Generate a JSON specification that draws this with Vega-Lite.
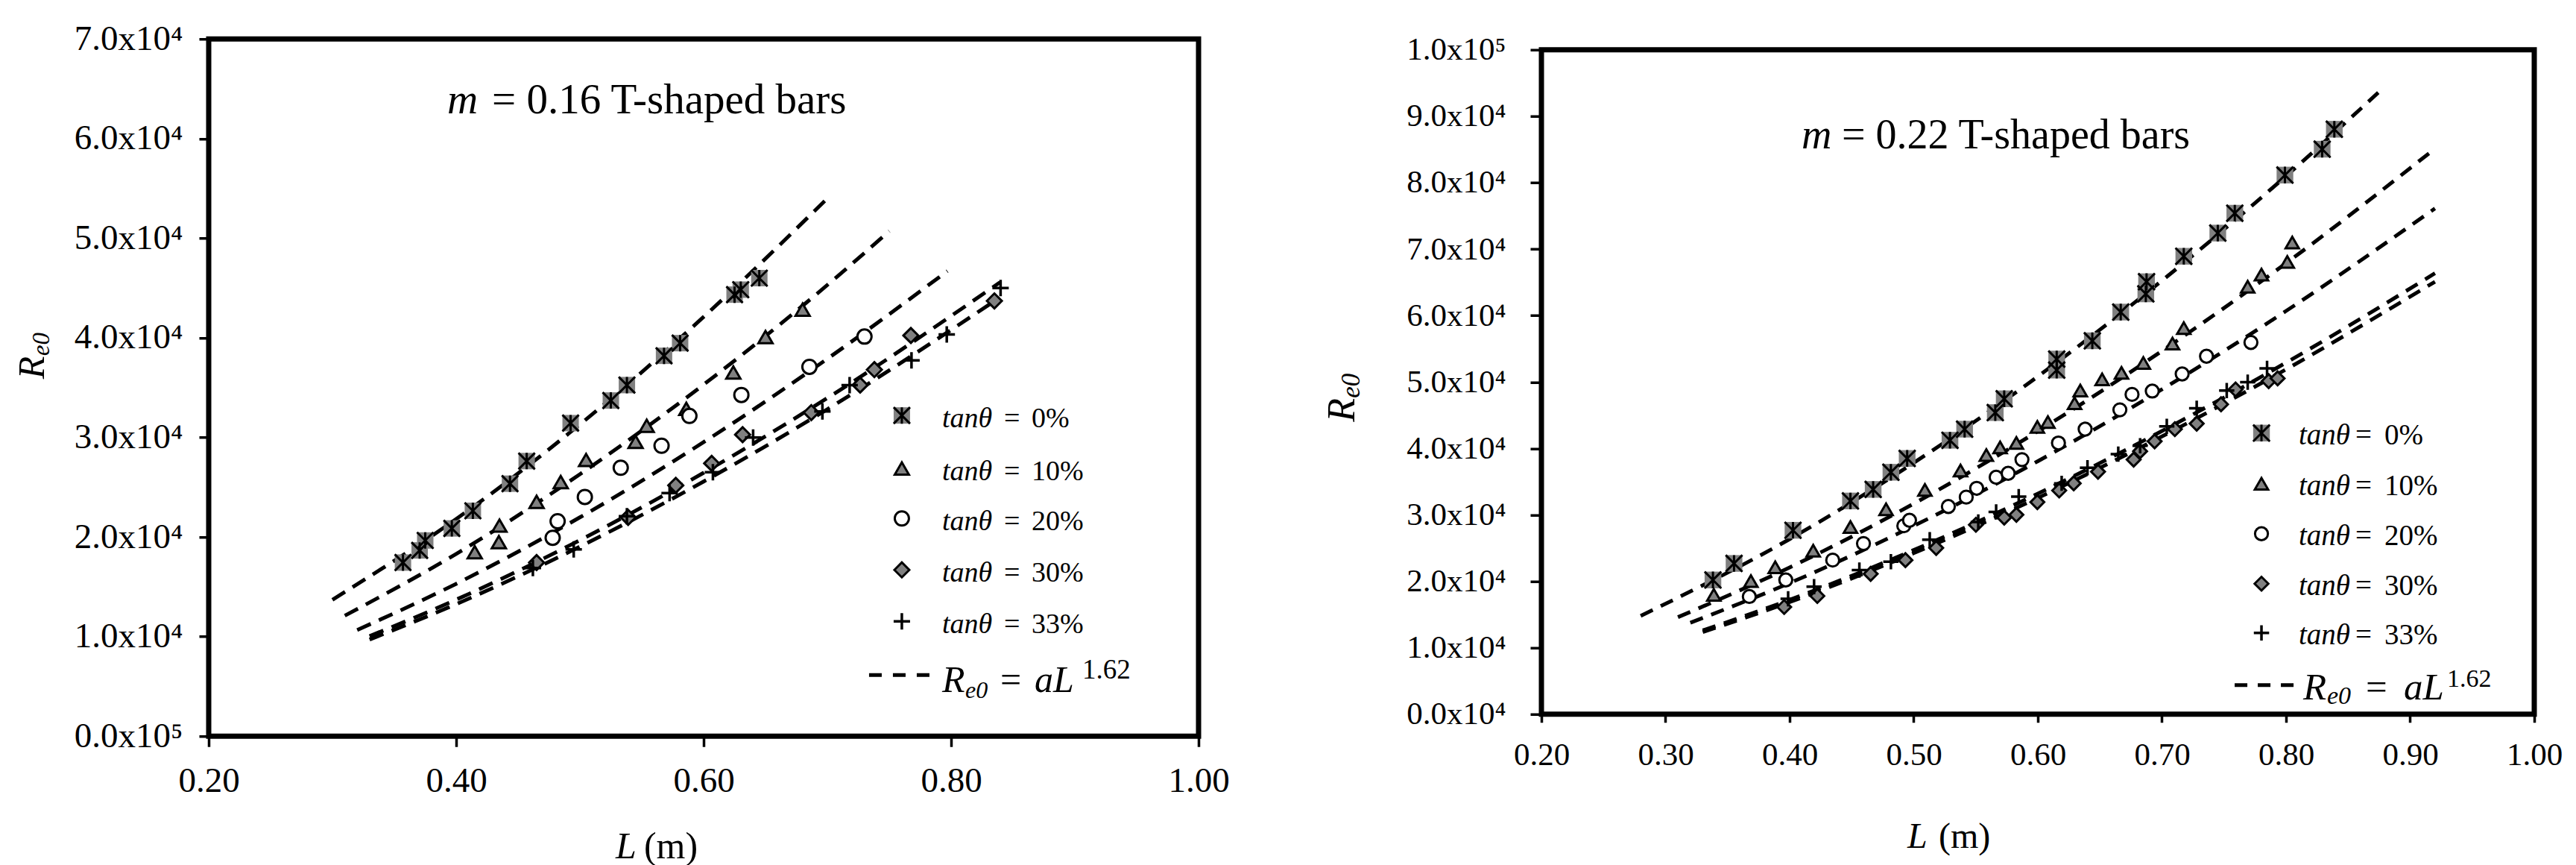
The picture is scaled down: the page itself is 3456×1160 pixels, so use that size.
{
"$schema": "https://vega.github.io/schema/vega-lite/v6.json",
"background": "white",
"padding": {"left": 15, "top": 24, "right": 5, "bottom": 0},
"center": true,
"spacing": 118,
"config": {"view": {"stroke": "black", "strokeWidth": 7}, "text": {"font": "Liberation Serif", "color": "black"}},
"datasets": {
"pts": [
{"p":"a","s":"0%","L":0.357,"R":17430},{"p":"a","s":"0%","L":0.3705,"R":18650},{"p":"a","s":"0%","L":0.375,"R":19650},{"p":"a","s":"0%","L":0.3965,"R":20860},{"p":"a","s":"0%","L":0.4135,"R":22630},{"p":"a","s":"0%","L":0.4435,"R":25350},{"p":"a","s":"0%","L":0.457,"R":27620},{"p":"a","s":"0%","L":0.4925,"R":31430},{"p":"a","s":"0%","L":0.525,"R":33700},{"p":"a","s":"0%","L":0.538,"R":35250},{"p":"a","s":"0%","L":0.568,"R":38190},{"p":"a","s":"0%","L":0.581,"R":39460},{"p":"a","s":"0%","L":0.625,"R":44330},{"p":"a","s":"0%","L":0.63,"R":44830},{"p":"a","s":"0%","L":0.645,"R":45990},
{"p":"a","s":"10%","L":0.415,"R":18480},{"p":"a","s":"10%","L":0.4345,"R":19480},{"p":"a","s":"10%","L":0.435,"R":21140},{"p":"a","s":"10%","L":0.465,"R":23520},{"p":"a","s":"10%","L":0.4845,"R":25510},{"p":"a","s":"10%","L":0.505,"R":27730},{"p":"a","s":"10%","L":0.545,"R":29550},{"p":"a","s":"10%","L":0.554,"R":31160},{"p":"a","s":"10%","L":0.586,"R":32870},{"p":"a","s":"10%","L":0.624,"R":36520},{"p":"a","s":"10%","L":0.65,"R":40070},{"p":"a","s":"10%","L":0.68,"R":42830},
{"p":"a","s":"20%","L":0.478,"R":19920},{"p":"a","s":"20%","L":0.482,"R":21580},{"p":"a","s":"20%","L":0.504,"R":24020},{"p":"a","s":"20%","L":0.533,"R":26950},{"p":"a","s":"20%","L":0.566,"R":29160},{"p":"a","s":"20%","L":0.5885,"R":32150},{"p":"a","s":"20%","L":0.6305,"R":34260},{"p":"a","s":"20%","L":0.6855,"R":37080},{"p":"a","s":"20%","L":0.73,"R":40120},
{"p":"a","s":"30%","L":0.465,"R":17430},{"p":"a","s":"30%","L":0.539,"R":21970},{"p":"a","s":"30%","L":0.5775,"R":25180},{"p":"a","s":"30%","L":0.6065,"R":27390},{"p":"a","s":"30%","L":0.6315,"R":30270},{"p":"a","s":"30%","L":0.687,"R":32490},{"p":"a","s":"30%","L":0.7265,"R":35250},{"p":"a","s":"30%","L":0.738,"R":36800},{"p":"a","s":"30%","L":0.7675,"R":40230},{"p":"a","s":"30%","L":0.835,"R":43700},
{"p":"a","s":"33%","L":0.462,"R":16880},{"p":"a","s":"33%","L":0.495,"R":18760},{"p":"a","s":"33%","L":0.538,"R":22080},{"p":"a","s":"33%","L":0.5725,"R":24410},{"p":"a","s":"33%","L":0.6075,"R":26510},{"p":"a","s":"33%","L":0.64,"R":29990},{"p":"a","s":"33%","L":0.696,"R":32600},{"p":"a","s":"33%","L":0.718,"R":35250},{"p":"a","s":"33%","L":0.768,"R":37740},{"p":"a","s":"33%","L":0.7965,"R":40340},{"p":"a","s":"33%","L":0.84,"R":45000},
{"p":"b","s":"0%","L":0.3382,"R":20200},{"p":"b","s":"0%","L":0.3552,"R":22690},{"p":"b","s":"0%","L":0.4027,"R":27680},{"p":"b","s":"0%","L":0.449,"R":32090},{"p":"b","s":"0%","L":0.4673,"R":33830},{"p":"b","s":"0%","L":0.4816,"R":36410},{"p":"b","s":"0%","L":0.4947,"R":38490},{"p":"b","s":"0%","L":0.5292,"R":41230},{"p":"b","s":"0%","L":0.541,"R":42900},{"p":"b","s":"0%","L":0.5657,"R":45390},{"p":"b","s":"0%","L":0.5729,"R":47470},{"p":"b","s":"0%","L":0.6152,"R":51790},{"p":"b","s":"0%","L":0.6152,"R":53450},{"p":"b","s":"0%","L":0.6439,"R":56200},{"p":"b","s":"0%","L":0.6668,"R":60520},{"p":"b","s":"0%","L":0.687,"R":63260},{"p":"b","s":"0%","L":0.6876,"R":65090},{"p":"b","s":"0%","L":0.7176,"R":68920},{"p":"b","s":"0%","L":0.745,"R":72410},{"p":"b","s":"0%","L":0.7587,"R":75400},{"p":"b","s":"0%","L":0.7991,"R":81140},{"p":"b","s":"0%","L":0.8291,"R":85040},{"p":"b","s":"0%","L":0.8389,"R":88040},
{"p":"b","s":"10%","L":0.3389,"R":17960},{"p":"b","s":"10%","L":0.3688,"R":20030},{"p":"b","s":"10%","L":0.3884,"R":22110},{"p":"b","s":"10%","L":0.419,"R":24610},{"p":"b","s":"10%","L":0.449,"R":28180},{"p":"b","s":"10%","L":0.4777,"R":30840},{"p":"b","s":"10%","L":0.509,"R":33750},{"p":"b","s":"10%","L":0.5377,"R":36660},{"p":"b","s":"10%","L":0.5585,"R":38990},{"p":"b","s":"10%","L":0.5696,"R":40150},{"p":"b","s":"10%","L":0.5827,"R":40820},{"p":"b","s":"10%","L":0.5996,"R":43230},{"p":"b","s":"10%","L":0.6081,"R":43980},{"p":"b","s":"10%","L":0.6296,"R":46800},{"p":"b","s":"10%","L":0.6342,"R":48710},{"p":"b","s":"10%","L":0.6518,"R":50380},{"p":"b","s":"10%","L":0.6674,"R":51370},{"p":"b","s":"10%","L":0.685,"R":52870},{"p":"b","s":"10%","L":0.7085,"R":55780},{"p":"b","s":"10%","L":0.7176,"R":58110},{"p":"b","s":"10%","L":0.7691,"R":64340},{"p":"b","s":"10%","L":0.7802,"R":66170},{"p":"b","s":"10%","L":0.801,"R":68080},{"p":"b","s":"10%","L":0.805,"R":70990},
{"p":"b","s":"20%","L":0.3675,"R":17710},{"p":"b","s":"20%","L":0.3969,"R":20200},{"p":"b","s":"20%","L":0.4347,"R":23190},{"p":"b","s":"20%","L":0.4595,"R":25690},{"p":"b","s":"20%","L":0.492,"R":28350},{"p":"b","s":"20%","L":0.4966,"R":29180},{"p":"b","s":"20%","L":0.5279,"R":31260},{"p":"b","s":"20%","L":0.5423,"R":32670},{"p":"b","s":"20%","L":0.5507,"R":34000},{"p":"b","s":"20%","L":0.5664,"R":35660},{"p":"b","s":"20%","L":0.5761,"R":36250},{"p":"b","s":"20%","L":0.5872,"R":38320},{"p":"b","s":"20%","L":0.6166,"R":40820},{"p":"b","s":"20%","L":0.6381,"R":42900},{"p":"b","s":"20%","L":0.6661,"R":45810},{"p":"b","s":"20%","L":0.6759,"R":48130},{"p":"b","s":"20%","L":0.6922,"R":48630},{"p":"b","s":"20%","L":0.7163,"R":51210},{"p":"b","s":"20%","L":0.7359,"R":53870},{"p":"b","s":"20%","L":0.7717,"R":55950},
{"p":"b","s":"30%","L":0.3956,"R":16130},{"p":"b","s":"30%","L":0.4223,"R":17790},{"p":"b","s":"30%","L":0.4653,"R":21120},{"p":"b","s":"30%","L":0.4933,"R":23190},{"p":"b","s":"30%","L":0.5181,"R":25020},{"p":"b","s":"30%","L":0.5501,"R":28510},{"p":"b","s":"30%","L":0.5729,"R":29590},{"p":"b","s":"30%","L":0.5827,"R":30010},{"p":"b","s":"30%","L":0.5996,"R":31920},{"p":"b","s":"30%","L":0.6172,"R":33670},{"p":"b","s":"30%","L":0.6289,"R":34750},{"p":"b","s":"30%","L":0.6485,"R":36490},{"p":"b","s":"30%","L":0.6772,"R":38320},{"p":"b","s":"30%","L":0.6824,"R":39570},{"p":"b","s":"30%","L":0.6941,"R":41070},{"p":"b","s":"30%","L":0.7104,"R":42900},{"p":"b","s":"30%","L":0.728,"R":43730},{"p":"b","s":"30%","L":0.7476,"R":46640},{"p":"b","s":"30%","L":0.7593,"R":48880},{"p":"b","s":"30%","L":0.786,"R":50130},{"p":"b","s":"30%","L":0.7932,"R":50540},
{"p":"b","s":"33%","L":0.3988,"R":17370},{"p":"b","s":"33%","L":0.4197,"R":19200},{"p":"b","s":"33%","L":0.4562,"R":21700},{"p":"b","s":"33%","L":0.4816,"R":22940},{"p":"b","s":"33%","L":0.5129,"R":26270},{"p":"b","s":"33%","L":0.552,"R":28930},{"p":"b","s":"33%","L":0.5664,"R":30430},{"p":"b","s":"33%","L":0.5846,"R":32750},{"p":"b","s":"33%","L":0.6192,"R":34750},{"p":"b","s":"33%","L":0.64,"R":37080},{"p":"b","s":"33%","L":0.6648,"R":39150},{"p":"b","s":"33%","L":0.6824,"R":40400},{"p":"b","s":"33%","L":0.7039,"R":43310},{"p":"b","s":"33%","L":0.728,"R":46050},{"p":"b","s":"33%","L":0.7522,"R":48710},{"p":"b","s":"33%","L":0.7691,"R":49960},{"p":"b","s":"33%","L":0.7847,"R":52040}
],
"fit": [
{"p":"a","s":"0%","L":0.30,"R":13700},{"p":"a","s":"0%","L":0.40,"R":21800},{"p":"a","s":"0%","L":0.50,"R":31300},{"p":"a","s":"0%","L":0.60,"R":42100},{"p":"a","s":"0%","L":0.70,"R":54000},
{"p":"a","s":"10%","L":0.31,"R":12100},{"p":"a","s":"10%","L":0.40,"R":18300},{"p":"a","s":"10%","L":0.50,"R":26300},{"p":"a","s":"10%","L":0.60,"R":35300},{"p":"a","s":"10%","L":0.70,"R":45300},{"p":"a","s":"10%","L":0.75,"R":50700},
{"p":"a","s":"20%","L":0.32,"R":10660},{"p":"a","s":"20%","L":0.40,"R":15300},{"p":"a","s":"20%","L":0.50,"R":21970},{"p":"a","s":"20%","L":0.60,"R":29520},{"p":"a","s":"20%","L":0.70,"R":37890},{"p":"a","s":"20%","L":0.797,"R":46700},
{"p":"a","s":"30%","L":0.33,"R":9700},{"p":"a","s":"30%","L":0.40,"R":13260},{"p":"a","s":"30%","L":0.50,"R":19030},{"p":"a","s":"30%","L":0.60,"R":25570},{"p":"a","s":"30%","L":0.70,"R":32820},{"p":"a","s":"30%","L":0.835,"R":43680},
{"p":"a","s":"33%","L":0.33,"R":10040},{"p":"a","s":"33%","L":0.40,"R":13710},{"p":"a","s":"33%","L":0.50,"R":19680},{"p":"a","s":"33%","L":0.60,"R":26450},{"p":"a","s":"33%","L":0.70,"R":33950},{"p":"a","s":"33%","L":0.84,"R":45610},
{"p":"b","s":"0%","L":0.28,"R":14790},{"p":"b","s":"0%","L":0.40,"R":26350},{"p":"b","s":"0%","L":0.50,"R":37830},{"p":"b","s":"0%","L":0.60,"R":50830},{"p":"b","s":"0%","L":0.70,"R":65250},{"p":"b","s":"0%","L":0.80,"R":81000},{"p":"b","s":"0%","L":0.878,"R":94190},
{"p":"b","s":"10%","L":0.31,"R":14600},{"p":"b","s":"10%","L":0.40,"R":22080},{"p":"b","s":"10%","L":0.50,"R":31690},{"p":"b","s":"10%","L":0.60,"R":42580},{"p":"b","s":"10%","L":0.70,"R":54670},{"p":"b","s":"10%","L":0.80,"R":67870},{"p":"b","s":"10%","L":0.92,"R":85120},
{"p":"b","s":"20%","L":0.32,"R":13760},{"p":"b","s":"20%","L":0.40,"R":19740},{"p":"b","s":"20%","L":0.50,"R":28340},{"p":"b","s":"20%","L":0.60,"R":38080},{"p":"b","s":"20%","L":0.70,"R":48880},{"p":"b","s":"20%","L":0.80,"R":60690},{"p":"b","s":"20%","L":0.92,"R":76120},
{"p":"b","s":"30%","L":0.33,"R":12360},{"p":"b","s":"30%","L":0.40,"R":16880},{"p":"b","s":"30%","L":0.50,"R":24240},{"p":"b","s":"30%","L":0.60,"R":32560},{"p":"b","s":"30%","L":0.70,"R":41800},{"p":"b","s":"30%","L":0.80,"R":51900},{"p":"b","s":"30%","L":0.92,"R":65090},
{"p":"b","s":"33%","L":0.33,"R":12600},{"p":"b","s":"33%","L":0.40,"R":17210},{"p":"b","s":"33%","L":0.50,"R":24710},{"p":"b","s":"33%","L":0.60,"R":33200},{"p":"b","s":"33%","L":0.70,"R":42620},{"p":"b","s":"33%","L":0.80,"R":52910},{"p":"b","s":"33%","L":0.92,"R":66360}
]
},
"hconcat": [
{
"width": 1328, "height": 935,
"layer": [
{"data":{"name":"fit"},"transform":[{"filter":"datum.p==='a'"}],"mark":{"type":"line","color":"black","strokeWidth":5,"strokeDash":[20,12],"interpolate":"monotone"},
 "encoding":{
  "x":{"field":"L","type":"quantitative","title":null,"scale":{"domain":[0.2,1.0],"nice":false,"zero":false},
   "axis":{"values":[0.2,0.4,0.6,0.8,1.0],"format":".2f","domain":false,"grid":false,"tickSize":14,"tickWidth":3.5,"tickColor":"black","labelFont":"Liberation Serif","labelFontSize":47,"labelColor":"black","labelPadding":23,"labelFlush":false,"labelOverlap":false}},
  "y":{"field":"R","type":"quantitative","title":null,"scale":{"domain":[0,70000],"nice":false},
   "axis":{"values":[0,10000,20000,30000,40000,50000,60000,70000],"labelExpr":"datum.value === 0 ? '0.0x10⁵' : format(datum.value / 10000, '.1f') + 'x10⁴'","domain":false,"grid":false,"tickSize":13,"tickWidth":3.5,"tickColor":"black","labelFont":"Liberation Serif","labelFontSize":47,"labelColor":"black","labelPadding":22,"labelOverlap":false}},
  "detail":{"field":"s"}}},
{"data":{"name":"pts"},"transform":[{"filter":"datum.p==='a' && datum.s==='0%'"}],"mark":{"type":"point","shape":"square","filled":true,"fill":"#808080","strokeWidth":0,"size":484,"opacity":1},"encoding":{"x":{"field":"L","type":"quantitative","title":null},"y":{"field":"R","type":"quantitative","title":null}}},
{"data":{"name":"pts"},"transform":[{"filter":"datum.p==='a' && datum.s==='0%'"}],"mark":{"type":"point","shape":"M-1,-1L1,1M-1,1L1,-1M0,-1L0,1","filled":false,"stroke":"black","strokeWidth":3,"size":484,"opacity":1},"encoding":{"x":{"field":"L","type":"quantitative","title":null},"y":{"field":"R","type":"quantitative","title":null}}},
{"data":{"name":"pts"},"transform":[{"filter":"datum.p==='a' && datum.s==='10%'"}],"mark":{"type":"point","shape":"triangle-up","filled":true,"fill":"#808080","stroke":"black","strokeWidth":3,"size":361,"opacity":1},"encoding":{"x":{"field":"L","type":"quantitative","title":null},"y":{"field":"R","type":"quantitative","title":null}}},
{"data":{"name":"pts"},"transform":[{"filter":"datum.p==='a' && datum.s==='20%'"}],"mark":{"type":"point","shape":"circle","filled":true,"fill":"white","stroke":"black","strokeWidth":3,"size":361,"opacity":1},"encoding":{"x":{"field":"L","type":"quantitative","title":null},"y":{"field":"R","type":"quantitative","title":null}}},
{"data":{"name":"pts"},"transform":[{"filter":"datum.p==='a' && datum.s==='30%'"}],"mark":{"type":"point","shape":"diamond","filled":true,"fill":"#808080","stroke":"black","strokeWidth":3,"size":400,"opacity":1},"encoding":{"x":{"field":"L","type":"quantitative","title":null},"y":{"field":"R","type":"quantitative","title":null}}},
{"data":{"name":"pts"},"transform":[{"filter":"datum.p==='a' && datum.s==='33%'"}],"mark":{"type":"point","shape":"M-1,0L1,0M0,-1L0,1","filled":false,"stroke":"black","strokeWidth":3.5,"size":484,"opacity":1},"encoding":{"x":{"field":"L","type":"quantitative","title":null},"y":{"field":"R","type":"quantitative","title":null}}},

{"data":{"values":[{}]},"mark":{"type":"point","shape":"square","filled":true,"fill":"#808080","strokeWidth":0,"size":484,"opacity":1},"encoding":{"x":{"datum":0.7602,"type":"quantitative"},"y":{"datum":32200,"type":"quantitative"}}},
{"data":{"values":[{}]},"mark":{"type":"point","shape":"M-1,-1L1,1M-1,1L1,-1M0,-1L0,1","filled":false,"stroke":"black","strokeWidth":3,"size":484,"opacity":1},"encoding":{"x":{"datum":0.7602,"type":"quantitative"},"y":{"datum":32200,"type":"quantitative"}}},
{"data":{"values":[{}]},"mark":{"type":"point","shape":"triangle-up","filled":true,"fill":"#808080","stroke":"black","strokeWidth":3,"size":361,"opacity":1},"encoding":{"x":{"datum":0.7602,"type":"quantitative"},"y":{"datum":26880,"type":"quantitative"}}},
{"data":{"values":[{}]},"mark":{"type":"point","shape":"circle","filled":true,"fill":"white","stroke":"black","strokeWidth":3,"size":361,"opacity":1},"encoding":{"x":{"datum":0.7602,"type":"quantitative"},"y":{"datum":21860,"type":"quantitative"}}},
{"data":{"values":[{}]},"mark":{"type":"point","shape":"diamond","filled":true,"fill":"#808080","stroke":"black","strokeWidth":3,"size":400,"opacity":1},"encoding":{"x":{"datum":0.7602,"type":"quantitative"},"y":{"datum":16700,"type":"quantitative"}}},
{"data":{"values":[{}]},"mark":{"type":"point","shape":"M-1,0L1,0M0,-1L0,1","filled":false,"stroke":"black","strokeWidth":3.5,"size":484,"opacity":1},"encoding":{"x":{"datum":0.7602,"type":"quantitative"},"y":{"datum":11530,"type":"quantitative"}}},

{"data":{"values":[{}]},"mark":{"type":"text","text":"tanθ","fontStyle":"italic","fontSize":38,"align":"left","baseline":"alphabetic","dy":16},"encoding":{"x":{"datum":0.7928,"type":"quantitative"},"y":{"datum":32200,"type":"quantitative"}}},
{"data":{"values":[{}]},"mark":{"type":"text","text":"tanθ","fontStyle":"italic","fontSize":38,"align":"left","baseline":"alphabetic","dy":16},"encoding":{"x":{"datum":0.7928,"type":"quantitative"},"y":{"datum":26880,"type":"quantitative"}}},
{"data":{"values":[{}]},"mark":{"type":"text","text":"tanθ","fontStyle":"italic","fontSize":38,"align":"left","baseline":"alphabetic","dy":16},"encoding":{"x":{"datum":0.7928,"type":"quantitative"},"y":{"datum":21860,"type":"quantitative"}}},
{"data":{"values":[{}]},"mark":{"type":"text","text":"tanθ","fontStyle":"italic","fontSize":38,"align":"left","baseline":"alphabetic","dy":16},"encoding":{"x":{"datum":0.7928,"type":"quantitative"},"y":{"datum":16700,"type":"quantitative"}}},
{"data":{"values":[{}]},"mark":{"type":"text","text":"tanθ","fontStyle":"italic","fontSize":38,"align":"left","baseline":"alphabetic","dy":16},"encoding":{"x":{"datum":0.7928,"type":"quantitative"},"y":{"datum":11530,"type":"quantitative"}}},
{"data":{"values":[{}]},"mark":{"type":"text","text":"=","fontSize":38,"align":"left","baseline":"alphabetic","dx":83,"dy":16},"encoding":{"x":{"datum":0.7928,"type":"quantitative"},"y":{"datum":32200,"type":"quantitative"}}},
{"data":{"values":[{}]},"mark":{"type":"text","text":"=","fontSize":38,"align":"left","baseline":"alphabetic","dx":83,"dy":16},"encoding":{"x":{"datum":0.7928,"type":"quantitative"},"y":{"datum":26880,"type":"quantitative"}}},
{"data":{"values":[{}]},"mark":{"type":"text","text":"=","fontSize":38,"align":"left","baseline":"alphabetic","dx":83,"dy":16},"encoding":{"x":{"datum":0.7928,"type":"quantitative"},"y":{"datum":21860,"type":"quantitative"}}},
{"data":{"values":[{}]},"mark":{"type":"text","text":"=","fontSize":38,"align":"left","baseline":"alphabetic","dx":83,"dy":16},"encoding":{"x":{"datum":0.7928,"type":"quantitative"},"y":{"datum":16700,"type":"quantitative"}}},
{"data":{"values":[{}]},"mark":{"type":"text","text":"=","fontSize":38,"align":"left","baseline":"alphabetic","dx":83,"dy":16},"encoding":{"x":{"datum":0.7928,"type":"quantitative"},"y":{"datum":11530,"type":"quantitative"}}},
{"data":{"values":[{}]},"mark":{"type":"text","text":"0%","fontSize":38,"align":"left","baseline":"alphabetic","dx":120,"dy":16},"encoding":{"x":{"datum":0.7928,"type":"quantitative"},"y":{"datum":32200,"type":"quantitative"}}},
{"data":{"values":[{}]},"mark":{"type":"text","text":"10%","fontSize":38,"align":"left","baseline":"alphabetic","dx":120,"dy":16},"encoding":{"x":{"datum":0.7928,"type":"quantitative"},"y":{"datum":26880,"type":"quantitative"}}},
{"data":{"values":[{}]},"mark":{"type":"text","text":"20%","fontSize":38,"align":"left","baseline":"alphabetic","dx":120,"dy":16},"encoding":{"x":{"datum":0.7928,"type":"quantitative"},"y":{"datum":21860,"type":"quantitative"}}},
{"data":{"values":[{}]},"mark":{"type":"text","text":"30%","fontSize":38,"align":"left","baseline":"alphabetic","dx":120,"dy":16},"encoding":{"x":{"datum":0.7928,"type":"quantitative"},"y":{"datum":16700,"type":"quantitative"}}},
{"data":{"values":[{}]},"mark":{"type":"text","text":"33%","fontSize":38,"align":"left","baseline":"alphabetic","dx":120,"dy":16},"encoding":{"x":{"datum":0.7928,"type":"quantitative"},"y":{"datum":11530,"type":"quantitative"}}},

{"data":{"values":[{}]},"mark":{"type":"rule","color":"black","strokeWidth":5,"strokeDash":[17,15]},"encoding":{"x":{"datum":0.7337,"type":"quantitative"},"x2":{"datum":0.7825},"y":{"datum":6139,"type":"quantitative"}}},
{"data":{"values":[{}]},"mark":{"type":"text","text":"R","fontStyle":"italic","fontSize":50,"align":"left","baseline":"alphabetic"},"encoding":{"x":{"datum":0.7928,"type":"quantitative"},"y":{"datum":4417,"type":"quantitative"}}},
{"data":{"values":[{}]},"mark":{"type":"text","text":"e0","fontStyle":"italic","fontSize":32,"align":"left","baseline":"alphabetic","dx":31,"dy":8},"encoding":{"x":{"datum":0.7928,"type":"quantitative"},"y":{"datum":4417,"type":"quantitative"}}},
{"data":{"values":[{}]},"mark":{"type":"text","text":"=","fontSize":50,"align":"left","baseline":"alphabetic","dx":78},"encoding":{"x":{"datum":0.7928,"type":"quantitative"},"y":{"datum":4417,"type":"quantitative"}}},
{"data":{"values":[{}]},"mark":{"type":"text","text":"aL","fontStyle":"italic","fontSize":50,"align":"left","baseline":"alphabetic","dx":124},"encoding":{"x":{"datum":0.7928,"type":"quantitative"},"y":{"datum":4417,"type":"quantitative"}}},
{"data":{"values":[{}]},"mark":{"type":"text","text":"1.62","fontSize":37,"align":"left","baseline":"alphabetic","dx":188,"dy":-18},"encoding":{"x":{"datum":0.7928,"type":"quantitative"},"y":{"datum":4417,"type":"quantitative"}}},

{"data":{"values":[{}]},"mark":{"type":"text","text":"m","fontStyle":"italic","fontSize":57,"align":"left","baseline":"alphabetic"},"encoding":{"x":{"datum":0.3928,"type":"quantitative"},"y":{"datum":62513,"type":"quantitative"}}},
{"data":{"values":[{}]},"mark":{"type":"text","text":"= 0.16 T-shaped bars","fontSize":57,"align":"left","baseline":"alphabetic","dx":60},"encoding":{"x":{"datum":0.3928,"type":"quantitative"},"y":{"datum":62513,"type":"quantitative"}}},

{"data":{"values":[{}]},"mark":{"type":"text","text":"L","fontStyle":"italic","fontSize":50,"align":"left","baseline":"alphabetic"},"encoding":{"x":{"datum":0.5289,"type":"quantitative"},"y":{"datum":-12278,"type":"quantitative"}}},
{"data":{"values":[{}]},"mark":{"type":"text","text":"(m)","fontSize":50,"align":"left","baseline":"alphabetic","dx":38},"encoding":{"x":{"datum":0.5289,"type":"quantitative"},"y":{"datum":-12278,"type":"quantitative"}}},
{"data":{"values":[{}]},"mark":{"type":"text","text":"R","fontStyle":"italic","fontSize":50,"align":"left","baseline":"alphabetic","angle":270},"encoding":{"x":{"datum":0.0669,"type":"quantitative"},"y":{"datum":35861,"type":"quantitative"}}},
{"data":{"values":[{}]},"mark":{"type":"text","text":"e0","fontStyle":"italic","fontSize":33,"align":"left","baseline":"alphabetic","angle":270,"dx":31,"dy":7},"encoding":{"x":{"datum":0.0669,"type":"quantitative"},"y":{"datum":35861,"type":"quantitative"}}}
]
},
{
"width": 1332, "height": 891,
"layer": [
{"data":{"name":"fit"},"transform":[{"filter":"datum.p==='b'"}],"mark":{"type":"line","color":"black","strokeWidth":5,"strokeDash":[18,12],"interpolate":"monotone"},
 "encoding":{
  "x":{"field":"L","type":"quantitative","title":null,"scale":{"domain":[0.2,1.0],"nice":false,"zero":false},
   "axis":{"values":[0.2,0.3,0.4,0.5,0.6,0.7,0.8,0.9,1.0],"format":".2f","domain":false,"grid":false,"tickSize":11,"tickWidth":3.5,"tickColor":"black","labelFont":"Liberation Serif","labelFontSize":43,"labelColor":"black","labelPadding":23,"labelFlush":false,"labelOverlap":false}},
  "y":{"field":"R","type":"quantitative","title":null,"scale":{"domain":[0,100000],"nice":false},
   "axis":{"values":[0,10000,20000,30000,40000,50000,60000,70000,80000,90000,100000],"labelExpr":"datum.value === 0 ? '0.0x10⁴' : datum.value === 100000 ? '1.0x10⁵' : format(datum.value / 10000, '.1f') + 'x10⁴'","domain":false,"grid":false,"tickSize":15,"tickWidth":3.5,"tickColor":"black","labelFont":"Liberation Serif","labelFontSize":43,"labelColor":"black","labelPadding":33,"labelOverlap":false}},
  "detail":{"field":"s"}}},
{"data":{"name":"pts"},"transform":[{"filter":"datum.p==='b' && datum.s==='0%'"}],"mark":{"type":"point","shape":"square","filled":true,"fill":"#808080","strokeWidth":0,"size":500,"opacity":1},"encoding":{"x":{"field":"L","type":"quantitative","title":null},"y":{"field":"R","type":"quantitative","title":null}}},
{"data":{"name":"pts"},"transform":[{"filter":"datum.p==='b' && datum.s==='0%'"}],"mark":{"type":"point","shape":"M-1,-1L1,1M-1,1L1,-1M0,-1L0,1","filled":false,"stroke":"black","strokeWidth":3,"size":500,"opacity":1},"encoding":{"x":{"field":"L","type":"quantitative","title":null},"y":{"field":"R","type":"quantitative","title":null}}},
{"data":{"name":"pts"},"transform":[{"filter":"datum.p==='b' && datum.s==='10%'"}],"mark":{"type":"point","shape":"triangle-up","filled":true,"fill":"#808080","stroke":"black","strokeWidth":3,"size":320,"opacity":1},"encoding":{"x":{"field":"L","type":"quantitative","title":null},"y":{"field":"R","type":"quantitative","title":null}}},
{"data":{"name":"pts"},"transform":[{"filter":"datum.p==='b' && datum.s==='20%'"}],"mark":{"type":"point","shape":"circle","filled":true,"fill":"white","stroke":"black","strokeWidth":3,"size":300,"opacity":1},"encoding":{"x":{"field":"L","type":"quantitative","title":null},"y":{"field":"R","type":"quantitative","title":null}}},
{"data":{"name":"pts"},"transform":[{"filter":"datum.p==='b' && datum.s==='30%'"}],"mark":{"type":"point","shape":"diamond","filled":true,"fill":"#808080","stroke":"black","strokeWidth":3,"size":340,"opacity":1},"encoding":{"x":{"field":"L","type":"quantitative","title":null},"y":{"field":"R","type":"quantitative","title":null}}},
{"data":{"name":"pts"},"transform":[{"filter":"datum.p==='b' && datum.s==='33%'"}],"mark":{"type":"point","shape":"M-1,0L1,0M0,-1L0,1","filled":false,"stroke":"black","strokeWidth":3.5,"size":420,"opacity":1},"encoding":{"x":{"field":"L","type":"quantitative","title":null},"y":{"field":"R","type":"quantitative","title":null}}},

{"data":{"values":[{}]},"mark":{"type":"point","shape":"square","filled":true,"fill":"#808080","strokeWidth":0,"size":500,"opacity":1},"encoding":{"x":{"datum":0.7802,"type":"quantitative"},"y":{"datum":42310,"type":"quantitative"}}},
{"data":{"values":[{}]},"mark":{"type":"point","shape":"M-1,-1L1,1M-1,1L1,-1M0,-1L0,1","filled":false,"stroke":"black","strokeWidth":3,"size":500,"opacity":1},"encoding":{"x":{"datum":0.7802,"type":"quantitative"},"y":{"datum":42310,"type":"quantitative"}}},
{"data":{"values":[{}]},"mark":{"type":"point","shape":"triangle-up","filled":true,"fill":"#808080","stroke":"black","strokeWidth":3,"size":320,"opacity":1},"encoding":{"x":{"datum":0.7802,"type":"quantitative"},"y":{"datum":34680,"type":"quantitative"}}},
{"data":{"values":[{}]},"mark":{"type":"point","shape":"circle","filled":true,"fill":"white","stroke":"black","strokeWidth":3,"size":300,"opacity":1},"encoding":{"x":{"datum":0.7802,"type":"quantitative"},"y":{"datum":27160,"type":"quantitative"}}},
{"data":{"values":[{}]},"mark":{"type":"point","shape":"diamond","filled":true,"fill":"#808080","stroke":"black","strokeWidth":3,"size":340,"opacity":1},"encoding":{"x":{"datum":0.7802,"type":"quantitative"},"y":{"datum":19640,"type":"quantitative"}}},
{"data":{"values":[{}]},"mark":{"type":"point","shape":"M-1,0L1,0M0,-1L0,1","filled":false,"stroke":"black","strokeWidth":3.5,"size":420,"opacity":1},"encoding":{"x":{"datum":0.7802,"type":"quantitative"},"y":{"datum":12230,"type":"quantitative"}}},

{"data":{"values":[{}]},"mark":{"type":"text","text":"tanθ","fontStyle":"italic","fontSize":39,"align":"left","baseline":"alphabetic","dy":15},"encoding":{"x":{"datum":0.8102,"type":"quantitative"},"y":{"datum":42310,"type":"quantitative"}}},
{"data":{"values":[{}]},"mark":{"type":"text","text":"tanθ","fontStyle":"italic","fontSize":39,"align":"left","baseline":"alphabetic","dy":15},"encoding":{"x":{"datum":0.8102,"type":"quantitative"},"y":{"datum":34680,"type":"quantitative"}}},
{"data":{"values":[{}]},"mark":{"type":"text","text":"tanθ","fontStyle":"italic","fontSize":39,"align":"left","baseline":"alphabetic","dy":15},"encoding":{"x":{"datum":0.8102,"type":"quantitative"},"y":{"datum":27160,"type":"quantitative"}}},
{"data":{"values":[{}]},"mark":{"type":"text","text":"tanθ","fontStyle":"italic","fontSize":39,"align":"left","baseline":"alphabetic","dy":15},"encoding":{"x":{"datum":0.8102,"type":"quantitative"},"y":{"datum":19640,"type":"quantitative"}}},
{"data":{"values":[{}]},"mark":{"type":"text","text":"tanθ","fontStyle":"italic","fontSize":39,"align":"left","baseline":"alphabetic","dy":15},"encoding":{"x":{"datum":0.8102,"type":"quantitative"},"y":{"datum":12230,"type":"quantitative"}}},
{"data":{"values":[{}]},"mark":{"type":"text","text":"=","fontSize":39,"align":"left","baseline":"alphabetic","dx":76,"dy":15},"encoding":{"x":{"datum":0.8102,"type":"quantitative"},"y":{"datum":42310,"type":"quantitative"}}},
{"data":{"values":[{}]},"mark":{"type":"text","text":"=","fontSize":39,"align":"left","baseline":"alphabetic","dx":76,"dy":15},"encoding":{"x":{"datum":0.8102,"type":"quantitative"},"y":{"datum":34680,"type":"quantitative"}}},
{"data":{"values":[{}]},"mark":{"type":"text","text":"=","fontSize":39,"align":"left","baseline":"alphabetic","dx":76,"dy":15},"encoding":{"x":{"datum":0.8102,"type":"quantitative"},"y":{"datum":27160,"type":"quantitative"}}},
{"data":{"values":[{}]},"mark":{"type":"text","text":"=","fontSize":39,"align":"left","baseline":"alphabetic","dx":76,"dy":15},"encoding":{"x":{"datum":0.8102,"type":"quantitative"},"y":{"datum":19640,"type":"quantitative"}}},
{"data":{"values":[{}]},"mark":{"type":"text","text":"=","fontSize":39,"align":"left","baseline":"alphabetic","dx":76,"dy":15},"encoding":{"x":{"datum":0.8102,"type":"quantitative"},"y":{"datum":12230,"type":"quantitative"}}},
{"data":{"values":[{}]},"mark":{"type":"text","text":"0%","fontSize":39,"align":"left","baseline":"alphabetic","dx":115,"dy":15},"encoding":{"x":{"datum":0.8102,"type":"quantitative"},"y":{"datum":42310,"type":"quantitative"}}},
{"data":{"values":[{}]},"mark":{"type":"text","text":"10%","fontSize":39,"align":"left","baseline":"alphabetic","dx":115,"dy":15},"encoding":{"x":{"datum":0.8102,"type":"quantitative"},"y":{"datum":34680,"type":"quantitative"}}},
{"data":{"values":[{}]},"mark":{"type":"text","text":"20%","fontSize":39,"align":"left","baseline":"alphabetic","dx":115,"dy":15},"encoding":{"x":{"datum":0.8102,"type":"quantitative"},"y":{"datum":27160,"type":"quantitative"}}},
{"data":{"values":[{}]},"mark":{"type":"text","text":"30%","fontSize":39,"align":"left","baseline":"alphabetic","dx":115,"dy":15},"encoding":{"x":{"datum":0.8102,"type":"quantitative"},"y":{"datum":19640,"type":"quantitative"}}},
{"data":{"values":[{}]},"mark":{"type":"text","text":"33%","fontSize":39,"align":"left","baseline":"alphabetic","dx":115,"dy":15},"encoding":{"x":{"datum":0.8102,"type":"quantitative"},"y":{"datum":12230,"type":"quantitative"}}},

{"data":{"values":[{}]},"mark":{"type":"rule","color":"black","strokeWidth":5,"strokeDash":[17,14]},"encoding":{"x":{"datum":0.7586,"type":"quantitative"},"x2":{"datum":0.8072},"y":{"datum":4377,"type":"quantitative"}}},
{"data":{"values":[{}]},"mark":{"type":"text","text":"R","fontStyle":"italic","fontSize":51,"align":"left","baseline":"alphabetic"},"encoding":{"x":{"datum":0.8138,"type":"quantitative"},"y":{"datum":2245,"type":"quantitative"}}},
{"data":{"values":[{}]},"mark":{"type":"text","text":"e0","fontStyle":"italic","fontSize":34,"align":"left","baseline":"alphabetic","dx":32,"dy":6},"encoding":{"x":{"datum":0.8138,"type":"quantitative"},"y":{"datum":2245,"type":"quantitative"}}},
{"data":{"values":[{}]},"mark":{"type":"text","text":"=","fontSize":51,"align":"left","baseline":"alphabetic","dx":84},"encoding":{"x":{"datum":0.8138,"type":"quantitative"},"y":{"datum":2245,"type":"quantitative"}}},
{"data":{"values":[{}]},"mark":{"type":"text","text":"aL","fontStyle":"italic","fontSize":51,"align":"left","baseline":"alphabetic","dx":135},"encoding":{"x":{"datum":0.8138,"type":"quantitative"},"y":{"datum":2245,"type":"quantitative"}}},
{"data":{"values":[{}]},"mark":{"type":"text","text":"1.62","fontSize":34,"align":"left","baseline":"alphabetic","dx":193,"dy":-17},"encoding":{"x":{"datum":0.8138,"type":"quantitative"},"y":{"datum":2245,"type":"quantitative"}}},

{"data":{"values":[{}]},"mark":{"type":"text","text":"m","fontStyle":"italic","fontSize":56,"align":"left","baseline":"alphabetic"},"encoding":{"x":{"datum":0.4096,"type":"quantitative"},"y":{"datum":85185,"type":"quantitative"}}},
{"data":{"values":[{}]},"mark":{"type":"text","text":"= 0.22 T-shaped bars","fontSize":56,"align":"left","baseline":"alphabetic","dx":54},"encoding":{"x":{"datum":0.4096,"type":"quantitative"},"y":{"datum":85185,"type":"quantitative"}}},

{"data":{"values":[{}]},"mark":{"type":"text","text":"L","fontStyle":"italic","fontSize":48,"align":"left","baseline":"alphabetic"},"encoding":{"x":{"datum":0.4949,"type":"quantitative"},"y":{"datum":-20090,"type":"quantitative"}}},
{"data":{"values":[{}]},"mark":{"type":"text","text":"(m)","fontSize":48,"align":"left","baseline":"alphabetic","dx":42},"encoding":{"x":{"datum":0.4949,"type":"quantitative"},"y":{"datum":-20090,"type":"quantitative"}}},
{"data":{"values":[{}]},"mark":{"type":"text","text":"R","fontStyle":"italic","fontSize":52,"align":"left","baseline":"alphabetic","angle":270},"encoding":{"x":{"datum":0.0492,"type":"quantitative"},"y":{"datum":43996,"type":"quantitative"}}},
{"data":{"values":[{}]},"mark":{"type":"text","text":"e0","fontStyle":"italic","fontSize":35,"align":"left","baseline":"alphabetic","angle":270,"dx":32,"dy":7},"encoding":{"x":{"datum":0.0492,"type":"quantitative"},"y":{"datum":43996,"type":"quantitative"}}}
]
}
]
}
